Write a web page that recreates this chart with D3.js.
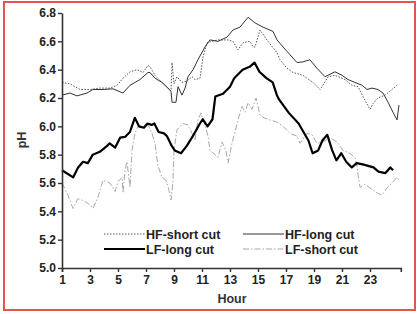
<!DOCTYPE html>
<html>
<head>
<meta charset="utf-8">
<script src="https://cdn.jsdelivr.net/npm/d3@7"></script>
<style>
  body { margin: 0; background: #fff; }
  svg { display: block; font-family: "Liberation Sans", Arial, sans-serif; }
</style>
</head>
<body>
<div class="chart"></div>
<script>
// values: [hour, pH]
var hfShort = [[1.0,6.31],[1.57,6.30],[2.29,6.26],[3.0,6.26],[3.71,6.27],[4.43,6.27],[4.93,6.29],[5.36,6.34],
  [5.86,6.385],[6.36,6.40],[6.79,6.38],[7.14,6.43],[7.29,6.42],[7.64,6.36],[8.14,6.31],[8.57,6.27],[8.79,6.25],
  [8.86,6.45],[9.0,6.30],[9.21,6.35],[9.57,6.31],[9.93,6.32],[10.29,6.35],[10.5,6.33],[10.86,6.34],[11.07,6.49],
  [11.36,6.59],[11.71,6.60],[12.14,6.61],[12.86,6.61],[13.21,6.60],[13.57,6.54],[13.93,6.59],[14.43,6.60],
  [14.64,6.56],[14.79,6.56],[15.14,6.68],[15.64,6.61],[16.07,6.555],[16.36,6.52],[16.57,6.47],[17.07,6.41],
  [17.5,6.38],[18.21,6.36],[18.93,6.31],[19.43,6.26],[19.57,6.28],[20.0,6.35],[20.5,6.36],[21.21,6.33],
  [21.71,6.29],[22.14,6.28],[22.5,6.21],[23.0,6.12],[23.21,6.16],[23.57,6.20],[24.07,6.22],[24.57,6.26],[24.93,6.29]];

var hfLong = [[1.0,6.22],[1.57,6.235],[2.07,6.215],[2.79,6.235],[3.21,6.26],[3.93,6.26],[4.64,6.265],[5.36,6.235],
  [5.86,6.29],[6.57,6.33],[7.14,6.38],[7.29,6.38],[7.64,6.34],[8.14,6.31],[8.57,6.27],[8.79,6.245],[8.86,6.17],
  [9.14,6.17],[9.29,6.28],[9.57,6.22],[9.79,6.27],[10.0,6.35],[10.36,6.40],[10.71,6.47],[11.21,6.56],[11.57,6.61],
  [12.14,6.60],[12.79,6.63],[13.21,6.68],[13.71,6.70],[14.29,6.77],[14.79,6.73],[15.36,6.70],[16.07,6.67],
  [16.36,6.61],[16.79,6.56],[17.29,6.505],[17.79,6.45],[18.21,6.455],[18.71,6.47],[19.21,6.41],[19.79,6.35],
  [20.5,6.385],[21.0,6.36],[21.43,6.33],[21.93,6.31],[22.43,6.29],[22.79,6.26],[23.14,6.27],[23.57,6.26],
  [23.93,6.235],[24.29,6.17],[24.64,6.10],[24.93,6.045],[25.07,6.15]];

var lfLong = [[1.0,5.69],[1.8,5.64],[2.15,5.71],[2.5,5.75],[2.85,5.74],[3.2,5.80],[3.7,5.82],[4.2,5.86],[4.4,5.88],
  [4.8,5.85],[5.15,5.92],[5.5,5.925],[5.85,5.96],[6.2,6.06],[6.5,6.00],[6.85,5.99],[7.1,6.02],[7.4,6.01],
  [7.6,6.02],[7.9,5.96],[8.3,5.95],[8.5,5.93],[8.85,5.86],[9.05,5.83],[9.5,5.81],[9.9,5.86],[10.4,5.94],
  [10.85,6.02],[11.05,6.05],[11.4,6.00],[11.75,6.05],[11.95,6.21],[12.5,6.23],[13.0,6.28],[13.3,6.34],
  [13.9,6.40],[14.4,6.42],[14.75,6.45],[15.1,6.385],[15.6,6.34],[16.05,6.31],[16.35,6.22],[16.5,6.19],
  [17.2,6.095],[17.9,6.02],[18.6,5.90],[18.9,5.81],[19.3,5.83],[19.6,5.90],[19.95,5.94],[20.3,5.83],
  [20.6,5.76],[20.95,5.81],[21.3,5.75],[21.7,5.71],[22.05,5.74],[22.55,5.73],[23.25,5.71],[23.6,5.68],
  [24.1,5.67],[24.45,5.71],[24.65,5.69]];

var lfShort = [[1.0,5.60],[1.36,5.53],[1.79,5.42],[2.14,5.49],[2.64,5.47],[3.0,5.445],[3.21,5.42],[3.57,5.50],
  [3.93,5.62],[4.43,5.60],[4.79,5.54],[5.0,5.61],[5.29,5.64],[5.36,5.53],[5.5,5.69],[5.64,5.75],[5.86,5.57],
  [6.0,5.83],[6.21,5.95],[6.43,6.0],[6.79,5.99],[7.14,6.01],[7.43,5.95],[7.64,5.88],[7.86,5.72],[8.14,5.64],
  [8.43,5.62],[8.64,5.55],[8.79,5.48],[8.93,5.62],[9.0,5.83],[9.21,5.975],[9.64,6.02],[10.0,6.01],[10.29,5.95],
  [10.5,5.90],[10.71,6.045],[10.93,6.095],[11.21,6.01],[11.43,5.93],[11.57,5.83],[11.93,5.80],[12.14,5.78],
  [12.43,5.89],[12.71,5.83],[12.86,5.74],[13.14,5.88],[13.36,5.96],[13.57,6.045],[13.86,6.14],[14.07,6.10],
  [14.29,6.165],[14.57,6.12],[14.86,6.20],[15.14,6.08],[15.43,6.06],[15.86,6.045],[16.36,6.03],[16.79,6.0],
  [17.29,5.95],[17.79,5.93],[18.0,5.88],[18.5,5.95],[18.86,5.94],[19.21,5.88],[19.64,5.89],[20.14,5.92],
  [20.64,5.89],[21.07,5.83],[21.57,5.81],[21.93,5.78],[22.07,5.72],[22.14,5.66],[22.29,5.57],[22.64,5.59],
  [23.0,5.565],[23.5,5.53],[23.86,5.515],[24.21,5.565],[24.57,5.60],[24.93,5.64],[25.14,5.61]];

var hourTicks = [1,3,5,7,9,11,13,15,17,19,21,23];
var phTicks = [5.0,5.2,5.4,5.6,5.8,6.0,6.2,6.4,6.6,6.8];
var seriesNames = ["HF-short cut","HF-long cut","LF-long cut","LF-short cut"];

var w = 420, h = 314;

var svg = d3.select("div.chart").append("svg")
  .attr("width", w).attr("height", h)
  .attr("viewBox", `0 0 ${w} ${h}`);

// red frame
svg.append("rect")
  .attr("x", 4).attr("y", 2)
  .attr("width", 411).attr("height", 308)
  .attr("fill", "none")
  .attr("stroke", "#e0564c")
  .attr("stroke-width", 2);

var x = d3.scaleLinear().domain([1, 25.2]).range([62, 400.8]);
var y = d3.scaleLinear().domain([5.0, 6.8]).range([268, 13]);

var styles = {
  "HF-short cut": {stroke: "#555", width: 1, dash: "1.5,1.5"},
  "HF-long cut": {stroke: "#333", width: 1, dash: null},
  "LF-long cut": {stroke: "#000", width: 2.2, dash: null},
  "LF-short cut": {stroke: "#a8a8a8", width: 1, dash: "6,2,1.5,2"}
};
var seriesData = {"HF-short cut": hfShort, "HF-long cut": hfLong, "LF-long cut": lfLong, "LF-short cut": lfShort};

var line = d3.line().x(d => x(d[0])).y(d => y(d[1]));

// draw order: light ones first
["LF-short cut","HF-short cut","HF-long cut","LF-long cut"].forEach(function(name){
  var s = styles[name];
  svg.append("path")
    .datum(seriesData[name])
    .attr("d", line)
    .attr("fill", "none")
    .attr("stroke", s.stroke)
    .attr("stroke-width", s.width)
    .attr("stroke-dasharray", s.dash)
    .attr("stroke-linejoin", "round");
});

//axes
var xAxis = svg.append("g")
  .attr("transform", "translate(0,268)")
  .call(d3.axisBottom(x).tickValues(hourTicks).tickSize(4).tickSizeOuter(4).tickPadding(3));

var yAxis = svg.append("g")
  .attr("transform", "translate(62,0)")
  .call(d3.axisLeft(y).tickValues(phTicks).tickFormat(d3.format(".1f")).tickSize(4).tickSizeOuter(0).tickPadding(2));

[xAxis, yAxis].forEach(function(g){
  g.select(".domain").attr("stroke", "#333").attr("stroke-width", 1.6);
  g.selectAll(".tick line").attr("stroke", "#333").attr("stroke-width", 1.4);
  g.selectAll(".tick text")
    .attr("fill", "#222")
    .style("font-size", "12px")
    .style("font-weight", "bold")
    .style("font-family", "'Liberation Sans', Arial, sans-serif");
});

svg.append("text")
  .attr("x", 232).attr("y", 303)
  .attr("text-anchor", "middle")
  .attr("fill", "#333")
  .style("font-size", "12.5px")
  .style("font-weight", "bold")
  .text("Hour");

svg.append("text")
  .attr("transform", "translate(26,140) rotate(-90)")
  .attr("text-anchor", "middle")
  .attr("fill", "#333")
  .style("font-size", "12.5px")
  .style("font-weight", "bold")
  .text("pH");

// legend
var legendPos = {
  "HF-short cut": [104, 234],
  "HF-long cut": [243, 234],
  "LF-long cut": [104, 249],
  "LF-short cut": [243, 249]
};
seriesNames.forEach(function(name){
  var s = styles[name], p = legendPos[name];
  svg.append("line")
    .attr("x1", p[0]).attr("x2", p[0] + 41)
    .attr("y1", p[1]).attr("y2", p[1])
    .attr("stroke", s.stroke)
    .attr("stroke-width", s.width)
    .attr("stroke-dasharray", s.dash);
  svg.append("text")
    .attr("x", p[0] + 42).attr("y", p[1] + 4.5)
    .attr("fill", "#222")
    .style("font-size", "12.5px")
    .style("font-weight", "bold")
    .text(name);
});
</script>
</body>
</html>
